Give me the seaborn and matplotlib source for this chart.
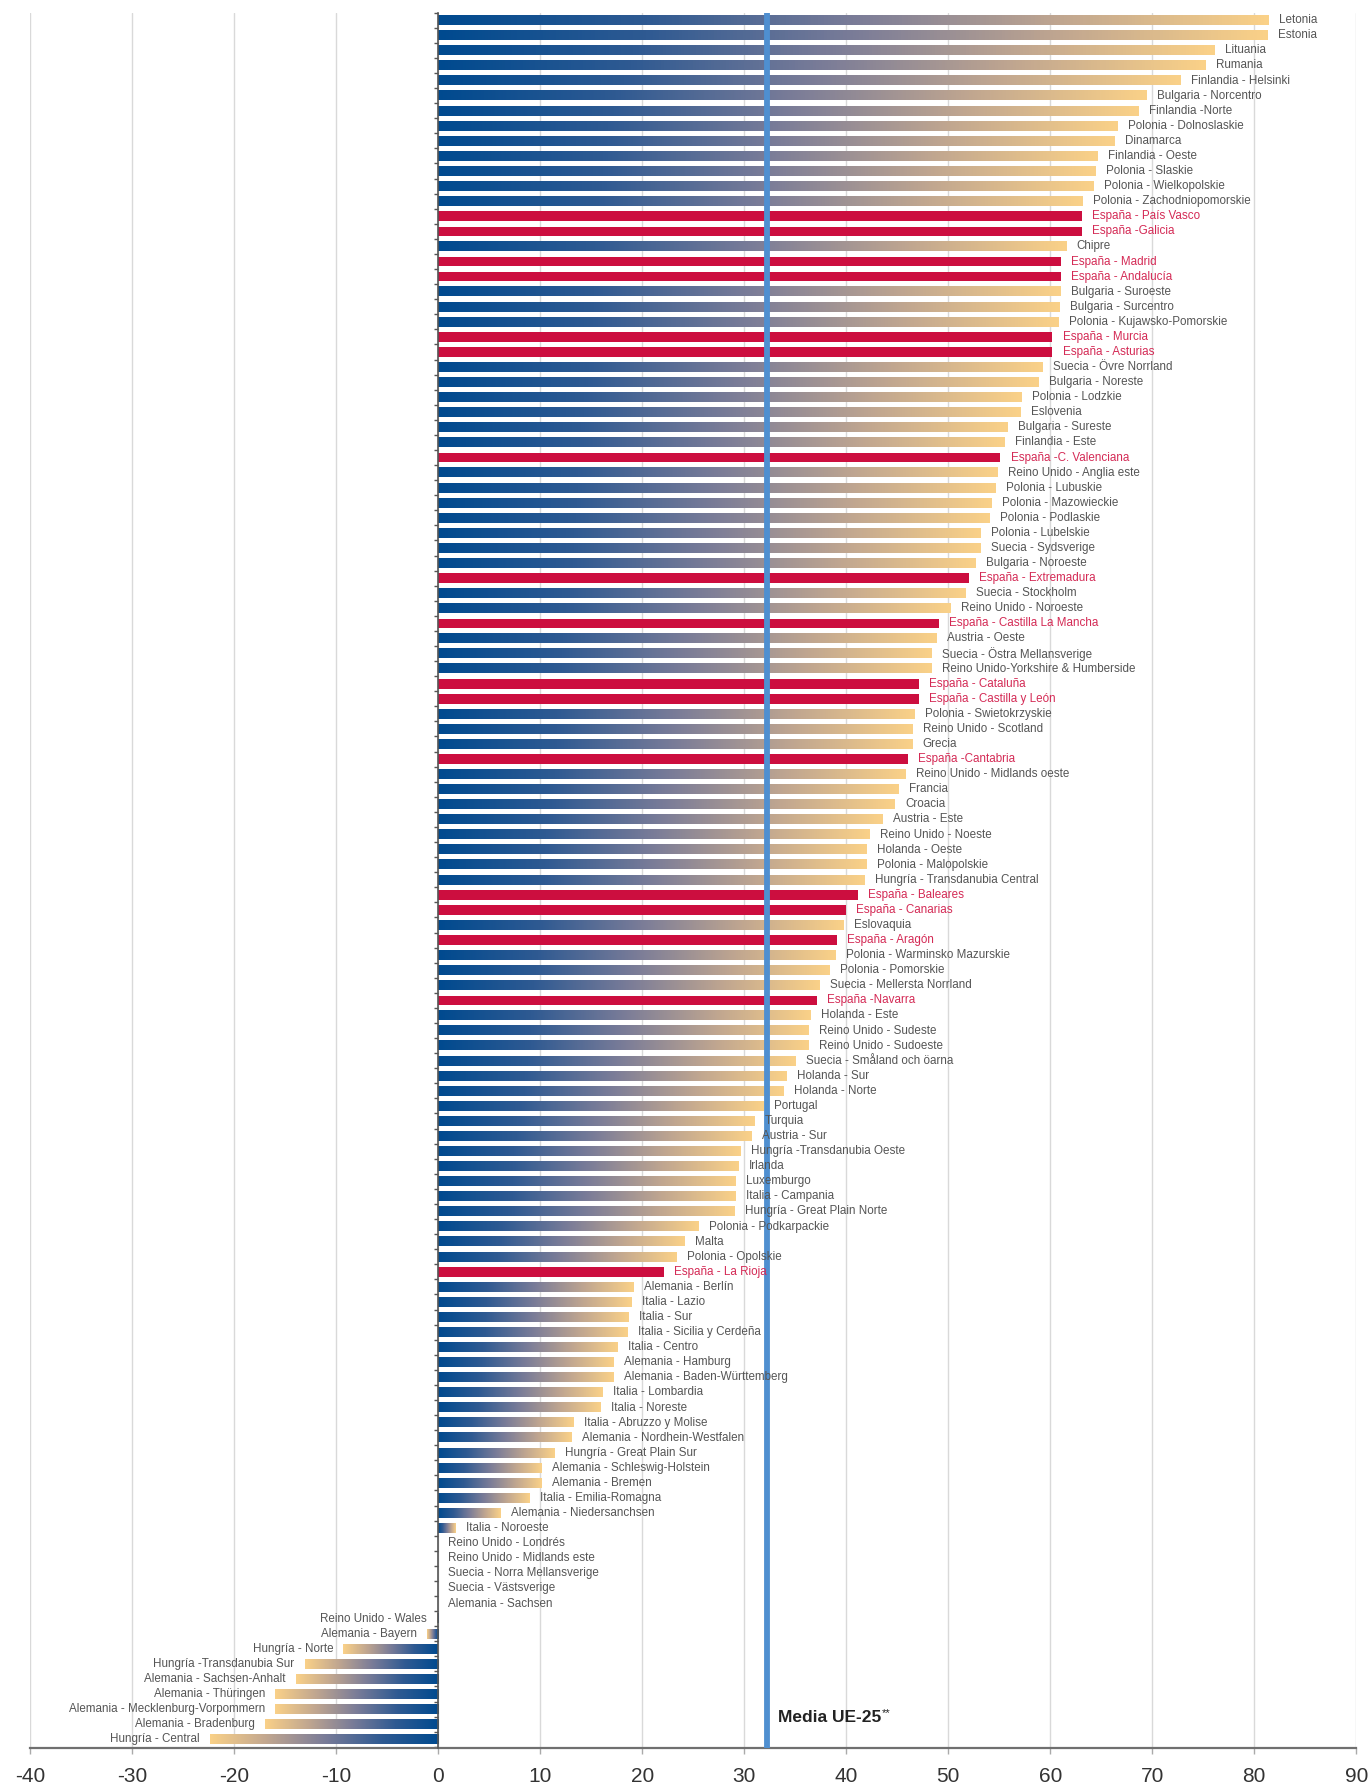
import numpy as np
import pandas as pd
import matplotlib
matplotlib.use('Agg')
import matplotlib.pyplot as plt
from matplotlib.colors import LinearSegmentedColormap
import seaborn as sns

regiones = [
    "Letonia", "Estonia", "Lituania", "Rumania", "Finlandia - Helsinki",
    "Bulgaria - Norcentro", "Finlandia -Norte", "Polonia - Dolnoslaskie", "Dinamarca", "Finlandia - Oeste",
    "Polonia - Slaskie", "Polonia - Wielkopolskie", "Polonia - Zachodniopomorskie", "España - País Vasco", "España -Galicia",
    "Chipre", "España - Madrid", "España - Andalucía", "Bulgaria - Suroeste", "Bulgaria - Surcentro",
    "Polonia - Kujawsko-Pomorskie", "España - Murcia", "España - Asturias", "Suecia - Övre Norrland", "Bulgaria - Noreste",
    "Polonia - Lodzkie", "Eslovenia", "Bulgaria - Sureste", "Finlandia - Este", "España -C. Valenciana",
    "Reino Unido - Anglia este", "Polonia - Lubuskie", "Polonia - Mazowieckie", "Polonia - Podlaskie", "Polonia - Lubelskie",
    "Suecia - Sydsverige", "Bulgaria - Noroeste", "España - Extremadura", "Suecia - Stockholm", "Reino Unido - Noroeste",
    "España - Castilla La Mancha", "Austria - Oeste", "Suecia - Östra Mellansverige", "Reino Unido-Yorkshire & Humberside", "España - Cataluña",
    "España - Castilla y León", "Polonia - Swietokrzyskie", "Reino Unido - Scotland", "Grecia", "España -Cantabria",
    "Reino Unido - Midlands oeste", "Francia", "Croacia", "Austria - Este", "Reino Unido - Noeste",
    "Holanda - Oeste", "Polonia - Malopolskie", "Hungría - Transdanubia Central", "España - Baleares", "España - Canarias",
    "Eslovaquia", "España - Aragón", "Polonia - Warminsko Mazurskie", "Polonia - Pomorskie", "Suecia - Mellersta Norrland",
    "España -Navarra", "Holanda - Este", "Reino Unido - Sudeste", "Reino Unido - Sudoeste", "Suecia - Småland och öarna",
    "Holanda - Sur", "Holanda - Norte", "Portugal", "Turquia", "Austria - Sur",
    "Hungría -Transdanubia Oeste", "Irlanda", "Luxemburgo", "Italia - Campania", "Hungría - Great Plain Norte",
    "Polonia - Podkarpackie", "Malta", "Polonia - Opolskie", "España - La Rioja", "Alemania - Berlín",
    "Italia - Lazio", "Italia - Sur", "Italia - Sicilia y Cerdeña", "Italia - Centro", "Alemania - Hamburg",
    "Alemania - Baden-Württemberg", "Italia - Lombardia", "Italia - Noreste", "Italia - Abruzzo y Molise", "Alemania - Nordhein-Westfalen",
    "Hungría - Great Plain Sur", "Alemania - Schleswig-Holstein", "Alemania - Bremen", "Italia - Emilia-Romagna", "Alemania - Niedersanchsen",
    "Italia - Noroeste", "Reino Unido - Londrés", "Reino Unido - Midlands este", "Suecia - Norra Mellansverige", "Suecia - Västsverige",
    "Alemania - Sachsen", "Reino Unido - Wales", "Alemania - Bayern", "Hungría - Norte", "Hungría -Transdanubia Sur",
    "Alemania - Sachsen-Anhalt", "Alemania - Thüringen", "Alemania - Mecklenburg-Vorpommern", "Alemania - Bradenburg", "Hungría - Central",
]

valores = [
    81.4, 81.3, 76.15, 75.2, 72.8, 69.45, 68.7, 66.6, 66.35, 64.65,
    64.5, 64.25, 63.2, 63.1, 63.1, 61.6, 61.05, 61.05, 61.0, 60.9,
    60.8, 60.2, 60.2, 59.3, 58.9, 57.2, 57.1, 55.8, 55.55, 55.1,
    54.9, 54.7, 54.3, 54.1, 53.2, 53.2, 52.7, 52.0, 51.7, 50.2,
    49.05, 48.85, 48.4, 48.4, 47.1, 47.1, 46.7, 46.5, 46.5, 46.0,
    45.8, 45.1, 44.75, 43.55, 42.3, 42.0, 42.0, 41.8, 41.1, 40.0,
    39.75, 39.05, 38.95, 38.35, 37.4, 37.1, 36.5, 36.3, 36.3, 35.0,
    34.15, 33.85, 31.9, 31.0, 30.7, 29.65, 29.45, 29.15, 29.15, 29.05,
    25.5, 24.15, 23.35, 22.1, 19.15, 18.95, 18.65, 18.55, 17.6, 17.2,
    17.2, 16.1, 15.9, 13.3, 13.1, 11.4, 10.15, 10.15, 8.95, 6.1,
    1.75, 0, 0, 0, 0, 0, -0.15, -1.1, -9.3, -13.1,
    -14.0, -16.0, -16.0, -17.0, -22.4,
]

media_ue25 = 32.2
media_label = "Media UE-25"
x_ticks = [-40, -30, -20, -10, 0, 10, 20, 30, 40, 50, 60, 70, 80, 90]
x_tick_labels = ["-40", "-30", "-20", "-10", "0", "10", "20", "30", "40", "50", "60", "70", "80", "90"]

assert len(regiones) == len(valores)

sns.set_theme(style='white')
plt.rcParams['font.family'] = ['Liberation Sans', 'DejaVu Sans']

df = pd.DataFrame({'region': regiones, 'valor': valores})
df['espana'] = df['region'].str.startswith('España')

RED = '#cc0e3f'
RED_TXT = '#d42a55'
GREY_TXT = '#555555'
cmap = LinearSegmentedColormap.from_list(
    'grad', [(0.0, '#004a8f'), (0.25, '#2f5a92'), (0.5, '#7a7c98'),
             (0.75, '#c0a690'), (1.0, '#fad188')])

W, H = 1370, 1786
fig = plt.figure(figsize=(W / 100, H / 100), dpi=100)
ax_left, ax_right = 30.3, 1356.3
ax_top, ax_bot = 12.7, 1747.7
ax = fig.add_axes([ax_left / W, 1 - ax_bot / H, (ax_right - ax_left) / W, (ax_bot - ax_top) / H])

pal = {r: (RED if e else '#888888') for r, e in zip(df['region'], df['espana'])}
sns.barplot(data=df, x='valor', y='region', hue='region', palette=pal, legend=False,
            order=regiones, hue_order=regiones, width=0.64, orient='h',
            saturation=1, errorbar=None, ax=ax, zorder=2)

grad = np.linspace(0, 1, 256).reshape(1, -1)
for p in list(ax.patches):
    w = p.get_width()
    h = p.get_height()
    y0 = p.get_y()
    i = int(round(y0 + h / 2))
    if i < 0 or i >= len(df):
        continue
    if df['espana'].iloc[i]:
        p.set_edgecolor('none')
        continue
    p.set_visible(False)
    if w == 0:
        continue
    x0 = p.get_x()
    ax.imshow(grad, cmap=cmap, aspect='auto', interpolation='bilinear',
              extent=(x0, x0 + w, y0 + h, y0), zorder=2)

# labels
for i, (r, v, e) in enumerate(zip(df['region'], df['valor'], df['espana'])):
    if v < 0:
        x, ha = v - 1.0, 'right'
    else:
        x, ha = v + 1.0, 'left'
    ax.text(x, i, r, ha=ha, va='center', fontsize=8.4,
            color=RED_TXT if e else GREY_TXT, zorder=5)

# mean line
ax.axvline(media_ue25, color='#4f8fd0', lw=4.2, zorder=3)
t = ax.text(33.3, 112.55, media_label, fontsize=12.5, fontweight='bold',
            color='#222222', ha='left', va='center', zorder=5)
ax.annotate('**', xy=(1, 1), xycoords=t, xytext=(0.5, 1), textcoords='offset points',
            fontsize=8, fontweight='normal', color='#222222', ha='left', va='top', zorder=5)

# axes styling
n = len(df)
ax.set_xlim(-40, 90)
ax.set_ylim(n - 1 + 0.56, -0.46)
ax.set_xticks(x_ticks)
ax.set_xticklabels(x_tick_labels)
ax.set_yticks(np.arange(-0.5, n, 1.0))
ax.set_yticklabels([])
ax.set_xlabel('')
ax.set_ylabel('')
ax.grid(axis='x', color='#d9d9d9', lw=1.0)
ax.grid(axis='y', visible=False)
ax.set_axisbelow(True)

for s in ['top', 'right']:
    ax.spines[s].set_visible(False)
ax.spines['left'].set_position(('data', 0))
ax.spines['left'].set_color('#555555')
ax.spines['left'].set_linewidth(1.2)
ax.spines['left'].set_zorder(4)
ax.spines['bottom'].set_color('#707070')
ax.spines['bottom'].set_linewidth(1.6)

ax.tick_params(axis='y', left=True, length=3, width=1, color='#555555', direction='out')
ax.tick_params(axis='x', bottom=True, length=4, width=1, color='#aaaaaa',
               labelsize=15, labelcolor='#333333', pad=10)

fig.savefig('out.png', dpi=100)
